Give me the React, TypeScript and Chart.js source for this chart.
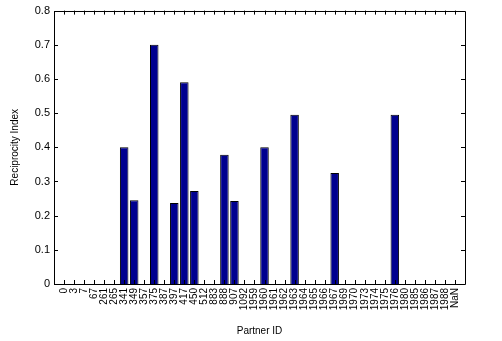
import React, { useEffect, useRef } from "react";
import { Chart, registerables } from "chart.js";

Chart.register(...registerables);

const partnerIds: string[] = [
  "0", "3", "7", "67", "261", "265", "341", "349", "357", "375",
  "387", "397", "417", "450", "512", "883", "888", "907", "1092", "1959",
  "1960", "1961", "1962", "1963", "1964", "1965", "1966", "1967", "1969", "1970",
  "1973", "1974", "1975", "1976", "1980", "1985", "1986", "1987", "1988", "NaN",
];

const reciprocity: number[] = [
  0, 0, 0, 0, 0, 0, 0.40, 0.245, 0, 0.70,
  0, 0.237, 0.59, 0.272, 0, 0, 0.378, 0.243, 0, 0,
  0.40, 0, 0, 0.495, 0, 0, 0, 0.325, 0, 0,
  0, 0, 0, 0.495, 0, 0, 0, 0, 0, 0,
];

const yTicks: number[] = [0, 0.1, 0.2, 0.3, 0.4, 0.5, 0.6, 0.7, 0.8];

const FONT = "'Liberation Sans', Arial, sans-serif";

const framePlugin = {
  id: "matlabFrame",
  afterDraw(chart: any) {
    const { ctx, chartArea } = chart;
    const { left, right, top, bottom } = chartArea;
    const xs = chart.scales.x;
    const ys = chart.scales.y;
    ctx.save();
    ctx.strokeStyle = "#000";
    ctx.lineWidth = 1;
    ctx.beginPath();
    ctx.rect(Math.round(left) + 0.5, Math.round(top) + 0.5, Math.round(right - left), Math.round(bottom - top));
    ctx.stroke();
    ctx.beginPath();
    for (let i = 1; i <= partnerIds.length; i++) {
      const x = Math.round(xs.getPixelForValue(i)) + 0.5;
      ctx.moveTo(x, bottom);
      ctx.lineTo(x, bottom - 4);
      ctx.moveTo(x, top);
      ctx.lineTo(x, top + 4);
    }
    for (const v of yTicks) {
      const y = Math.round(ys.getPixelForValue(v)) + 0.5;
      ctx.moveTo(left, y);
      ctx.lineTo(left + 4, y);
      ctx.moveTo(right, y);
      ctx.lineTo(right - 4, y);
    }
    ctx.stroke();
    ctx.restore();
  },
};

export default function App() {
  const canvasRef = useRef<HTMLCanvasElement | null>(null);

  useEffect(() => {
    document.body.style.margin = "0";
    const canvas = canvasRef.current;
    if (!canvas) return;
    const labels = ["", ...partnerIds, ""];
    const data = [null, ...reciprocity, null];
    const chart = new Chart(canvas, {
      type: "bar",
      data: {
        labels,
        datasets: [
          {
            data: data as any,
            backgroundColor: "#00008F",
            borderColor: "#000000",
            borderWidth: 1,
            barPercentage: 0.85,
            categoryPercentage: 1,
          },
        ],
      },
      options: {
        animation: false,
        responsive: true,
        maintainAspectRatio: false,
        layout: { padding: { top: 7, right: 37, left: 0, bottom: 0 } },
        plugins: { legend: { display: false }, tooltip: { enabled: false } },
        scales: {
          x: {
            type: "category",
            offset: false,
            grid: { display: false, drawTicks: false },
            border: { display: false },
            ticks: {
              autoSkip: false,
              minRotation: 90,
              maxRotation: 90,
              padding: 4,
              color: "#000",
              font: { family: FONT, size: 10 },
            },
            title: {
              display: true,
              text: "Partner ID",
              color: "#000",
              font: { family: FONT, size: 10 },
              padding: { top: 0, bottom: 4 },
            },
            afterFit: (s: any) => {
              s.height = 57;
            },
          },
          y: {
            min: 0,
            max: 0.8,
            grid: { display: false, drawTicks: false },
            border: { display: false },
            ticks: {
              stepSize: 0.1,
              padding: 4,
              color: "#000",
              font: { family: FONT, size: 11 },
              callback: (v: any) => {
                const n = Math.round(Number(v) * 10) / 10;
                return n === 0 ? "0" : n.toFixed(1);
              },
            },
            title: {
              display: true,
              text: "Reciprocity Index",
              color: "#000",
              font: { family: FONT, size: 10 },
              padding: { top: 9, bottom: 4 },
            },
            afterFit: (s: any) => {
              s.width = 54;
            },
          },
        },
      },
      plugins: [framePlugin],
    });
    return () => chart.destroy();
  }, []);

  return (
    <div style={{ position: "fixed", left: 0, top: 0, width: 502, height: 341, background: "#fff" }}>
      <canvas ref={canvasRef} />
    </div>
  );
}
